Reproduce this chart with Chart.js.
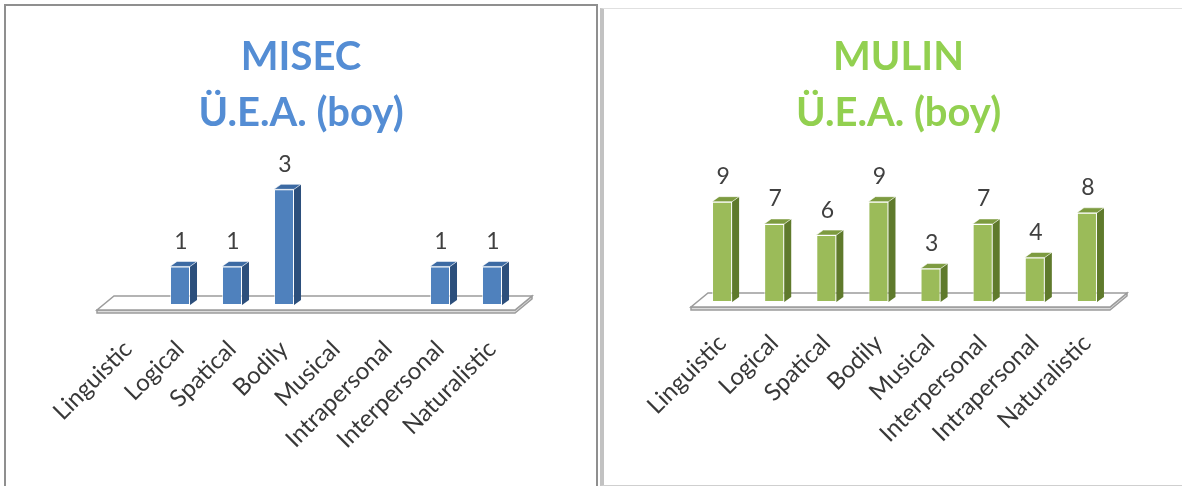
<html>
<head>
<meta charset="UTF-8"/>
<style>
html, body {
 width: 100%;
 height: 100%;
 margin: 0px;
 border: 0;
 overflow: hidden;
 background-color: #ffffff;
}
.panel { position: absolute; box-sizing: border-box; background: #ffffff; }
#leftPanel { left: 4px; top: 4px; width: 594px; height: 492px; border: 2px solid #8f8f8f; }
#rightPanel { left: 600px; top: 8px; width: 590px; height: 478px; border-left: 4px solid #c2c2c2; border-top: 1px solid #e0e0e0; border-bottom: 1px solid #cfcfcf; }
canvas { position: absolute; }
</style>
<script src="https://cdn.jsdelivr.net/npm/chart.js@4.4.1/dist/chart.umd.min.js"></script>
<script type="text/javascript">
// MISEC chart
var misecLabels = ['Linguistic', 'Logical', 'Spatical', 'Bodily', 'Musical', 'Intrapersonal', 'Interpersonal', 'Naturalistic'];
var misecValues = [0, 1, 1, 3, 0, 0, 1, 1];

// MULIN chart
var mulinLabels = ['Linguistic', 'Logical', 'Spatical', 'Bodily', 'Musical', 'Interpersonal', 'Intrapersonal', 'Naturalistic'];
var mulinValues = [9, 7, 6, 9, 3, 7, 4, 8];

var DEPTH_X = 7, DEPTH_Y = -5;

// floor plane under the bars + side/top faces + value labels
var bars3d = {
    id: 'bars3d',
    beforeDatasetsDraw: function(chart) {
        var ctx = chart.ctx, a = chart.chartArea;
        var base = a.bottom;
        var fl = a.left - 5, fr = a.right - 3, fy = base + 5;
        var sx = 17, sy = -14;
        ctx.save();
        // floor front strip
        ctx.fillStyle = '#dcdcdc';
        ctx.strokeStyle = '#9c9c9c';
        ctx.lineWidth = 1.5;
        ctx.beginPath();
        ctx.moveTo(fl, fy); ctx.lineTo(fr, fy); ctx.lineTo(fr + sx, fy + sy);
        ctx.lineTo(fr + sx, fy + sy + 3); ctx.lineTo(fr, fy + 3); ctx.lineTo(fl, fy + 3);
        ctx.closePath();
        ctx.fill(); ctx.stroke();
        // floor top
        ctx.fillStyle = '#ffffff';
        ctx.beginPath();
        ctx.moveTo(fl, fy); ctx.lineTo(fr, fy); ctx.lineTo(fr + sx, fy + sy); ctx.lineTo(fl + sx, fy + sy);
        ctx.closePath();
        ctx.fill(); ctx.stroke();
        ctx.restore();
    },
    afterDatasetsDraw: function(chart, args, opts) {
        var ctx = chart.ctx;
        var meta = chart.getDatasetMeta(0);
        var values = chart.data.datasets[0].data;
        ctx.save();
        meta.data.forEach(function(bar, i) {
            if (!values[i]) return;
            var l = bar.x - bar.width / 2, r = bar.x + bar.width / 2;
            var t = bar.y, b = bar.base;
            // side
            ctx.fillStyle = opts.side;
            ctx.beginPath();
            ctx.moveTo(r, b); ctx.lineTo(r, t); ctx.lineTo(r + DEPTH_X, t + DEPTH_Y); ctx.lineTo(r + DEPTH_X, b + DEPTH_Y);
            ctx.closePath();
            ctx.fill();
            // top
            ctx.fillStyle = opts.top;
            ctx.strokeStyle = 'rgba(255,255,255,0.55)';
            ctx.lineWidth = 1;
            ctx.beginPath();
            ctx.moveTo(l, t); ctx.lineTo(r, t); ctx.lineTo(r + DEPTH_X, t + DEPTH_Y); ctx.lineTo(l + DEPTH_X, t + DEPTH_Y);
            ctx.closePath();
            ctx.fill(); ctx.stroke();
            // value label
            ctx.fillStyle = '#404040';
            ctx.font = '23px Lato';
            ctx.textAlign = 'center';
            ctx.textBaseline = 'middle';
            ctx.fillText(String(values[i]), bar.x + 1, t - 25);
        });
        ctx.restore();
    }
};

function makeChart(id, labels, values, title, colors, layout) {
    var ctx = document.getElementById(id).getContext('2d');
    return new Chart(ctx, {
        type: 'bar',
        data: {
            labels: labels,
            datasets: [{
                data: values,
                backgroundColor: colors.front,
                borderColor: 'rgba(255,255,255,0.6)',
                borderWidth: 1,
                borderSkipped: false,
                barPercentage: 0.385,
                categoryPercentage: 1.0
            }]
        },
        options: {
            responsive: false,
            animation: false,
            events: [],
            layout: { padding: 0 },
            plugins: {
                legend: { display: false },
                tooltip: { enabled: false },
                title: {
                    display: true,
                    text: title,
                    color: colors.title,
                    font: { family: 'Lato', size: 40, weight: 'bold', lineHeight: 1.4 },
                    padding: { top: 24, bottom: 4 }
                },
                bars3d: { side: colors.side, top: colors.top }
            },
            scales: {
                x: {
                    grid: { display: false, drawTicks: false },
                    border: { display: false },
                    ticks: {
                        color: '#383838',
                        font: { family: 'Lato', size: 24 },
                        minRotation: 45,
                        maxRotation: 45,
                        padding: layout.tickPad,
                        autoSkip: false
                    },
                    afterFit: function(scale) {
                        scale.height = layout.axisHeight;
                        scale.paddingLeft = layout.padLeft;
                        scale.paddingRight = layout.padRight;
                    }
                },
                y: {
                    display: false,
                    min: 0,
                    max: layout.yMax
                }
            }
        },
        plugins: [bars3d]
    });
}

function init() {
    makeChart('misecChart', misecLabels, misecValues, ['MISEC', 'Ü.E.A. (boy)'],
        { front: '#4f81bd', side: '#2c4f7c', top: '#3c6aa3', title: '#548dd4' },
        { axisHeight: 181, padLeft: 97, padRight: 79, yMax: 4.15, tickPad: 30 });
    makeChart('mulinChart', mulinLabels, mulinValues, ['MULIN', 'Ü.E.A. (boy)'],
        { front: '#9bbb59', side: '#5f7a2c', top: '#7d9b40', title: '#92d050' },
        { axisHeight: 184, padLeft: 79, padRight: 67, yMax: 14.08, tickPad: 27 });
}
</script>
<title>Ü.E.A.</title>
</head>

<body onload="JavaScript:init();">
<div class="panel" id="leftPanel"></div>
<div class="panel" id="rightPanel"></div>
<canvas id="misecChart" width="592" height="481" style="left:5px;top:5px;width:592px;height:481px"></canvas>
<canvas id="mulinChart" width="563" height="481" style="left:617px;top:5px;width:563px;height:481px"></canvas>
</body>
</html>
